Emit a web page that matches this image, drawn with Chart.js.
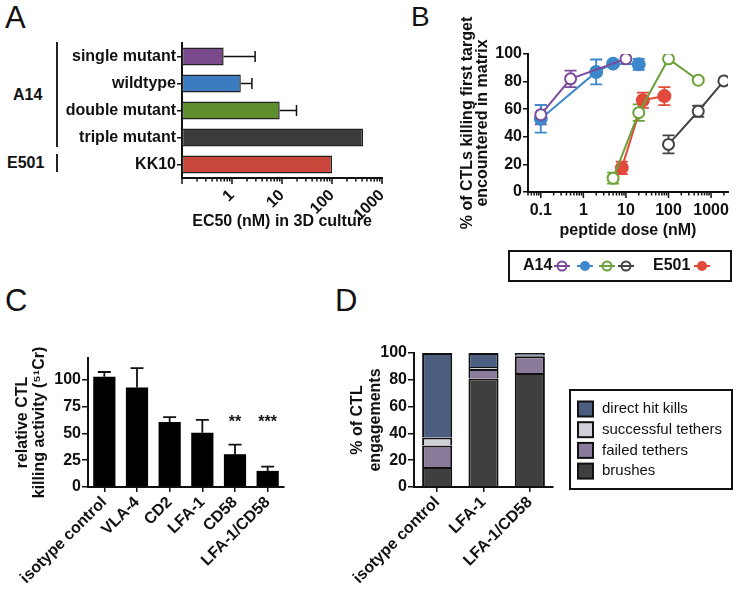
<!DOCTYPE html>
<html>
<head>
<meta charset="utf-8">
<script src="https://cdn.jsdelivr.net/npm/chart.js@4.4.1/dist/chart.umd.min.js"></script>
<style>
  body { margin: 0; background: #fff; width: 737px; height: 596px; position: relative; overflow: hidden;
         font-family: 'Liberation Sans', Arial, Helvetica, sans-serif; color: #111; }
  canvas { position: absolute; }
  .letter { position: absolute; font-size: 31px; line-height: 31px; }
  .group { position: absolute; font-size: 16px; font-weight: bold; line-height: 16px; }
  .vline { position: absolute; width: 2px; background: #222; }
</style>
</head>
<body>
<div class="letter" style="left:5px;top:2px">A</div>
<div class="letter" style="left:411px;top:3px;font-size:28px;line-height:28px">B</div>
<div class="letter" style="left:5px;top:285px">C</div>
<div class="letter" style="left:335px;top:285px">D</div>

<div class="group" style="left:13px;top:87px">A14</div>
<div class="group" style="left:7px;top:155px">E501</div>
<div class="vline" style="left:56px;top:42px;height:105px"></div>
<div class="vline" style="left:56px;top:154px;height:18px"></div>

<canvas id="chartA" width="395" height="235" style="left:0;top:0"></canvas>
<canvas id="chartB" width="357" height="290" style="left:380px;top:0"></canvas>
<canvas id="chartC" width="300" height="296" style="left:0;top:300px"></canvas>
<canvas id="chartD" width="437" height="296" style="left:300px;top:300px"></canvas>

<script>
// ---- panel A: EC50 per peptide
const peptides = ['single mutant', 'wildtype', 'double mutant', 'triple mutant', 'KK10'];
const ec50 = [0.68, 1.5, 9, 420, 100];
const ec50ErrHi = [2.9, 2.5, 19.5, null, null];
const peptideColors = ['#7a4a8c', '#3b7bbf', '#5e8f2c', '#3b3b3b', '#c8473a'];

// ---- panel B: dose response (nM, % killing, +/- error)
const doseSingle = [0.1, 0.5, 10];
const killSingle = [56, 82, 96.5];
const errSingle = [7, 6, 0];
const doseWild = [0.1, 2, 5, 20];
const killWild = [53, 87, 93, 92.5];
const errWild = [10, 9, 1, 4];
const doseDouble = [5, 20, 100, 500];
const killDouble = [10, 57.5, 96.5, 81];
const errDouble = [4, 6, 0, 0];
const doseTriple = [100, 500, 2000];
const killTriple = [34.5, 58.5, 80.5];
const errTriple = [6.5, 4, 0];
const doseKK10 = [8, 25, 80];
const killKK10 = [17.5, 66.5, 69.5];
const errKK10 = [4.5, 5.5, 6.5];

// ---- panel C: blocking antibodies
const antibodies = ['isotype control', 'VLA-4', 'CD2', 'LFA-1', 'CD58', 'LFA-1/CD58'];
const killing = [102.5, 92.5, 60.5, 50.5, 30.5, 15];
const killingErrHi = [107, 110.5, 65, 62.5, 39.5, 19];
const stars = ['', '', '', '', '**', '***'];
const starLevel = 63;

// ---- panel D: engagement outcomes
const treatments = ['isotype control', 'LFA-1', 'LFA-1/CD58'];
const brushes = [15, 81, 85];
const failedTethers = [16, 7, 12.5];
const successfulTethers = [6, 1.5, 0.6];
const directHits = [63, 10.5, 1.9];

const FONT = "'Liberation Sans', Arial, Helvetica, sans-serif";
Chart.defaults.font.family = FONT;
Chart.defaults.font.size = 16;
Chart.defaults.font.weight = 'bold';
Chart.defaults.color = '#111';
Chart.defaults.animation = false;
Chart.defaults.plugins.legend.display = false;
Chart.defaults.plugins.tooltip.enabled = false;

const isPow10 = v => Math.abs(Math.log10(v) - Math.round(Math.log10(v))) < 1e-9;

// force the axis box to a given size so the plot areas line up with the figure
function fixSize(size) {
    return function (scale) {
        if (scale.isHorizontal()) scale.height = size; else scale.width = size;
        scale.paddingLeft = scale.paddingRight = scale.paddingTop = scale.paddingBottom = 0;
    };
}

const axisBorder = {color: '#111', width: 2};

// error bars, read from dataset.errLo / dataset.errHi
function drawErrors(chart) {
    const ctx = chart.ctx;
    const horizontal = chart.options.indexAxis === 'y';
    chart.data.datasets.forEach((ds, di) => {
        if (!ds.errHi) return;
        const meta = chart.getDatasetMeta(di);
        const vs = horizontal ? chart.scales.x : chart.scales.y;
        ctx.save();
        ctx.strokeStyle = ds.errColor || '#111';
        ctx.lineWidth = ds.errWidth || 1.5;
        const cap = ds.capSize || 10;
        meta.data.forEach((el, i) => {
            const hi = ds.errHi[i];
            if (hi == null) return;
            const lo = ds.errLo ? ds.errLo[i] : null;
            const pHi = vs.getPixelForValue(hi);
            const pLo = lo == null ? (horizontal ? el.x : el.y) : vs.getPixelForValue(lo);
            ctx.beginPath();
            if (horizontal) {
                ctx.moveTo(pLo, el.y); ctx.lineTo(pHi, el.y);
                ctx.moveTo(pHi, el.y - cap / 2); ctx.lineTo(pHi, el.y + cap / 2);
            } else {
                ctx.moveTo(el.x, pLo); ctx.lineTo(el.x, pHi);
                ctx.moveTo(el.x - cap / 2, pHi); ctx.lineTo(el.x + cap / 2, pHi);
                if (lo != null) { ctx.moveTo(el.x - cap / 2, pLo); ctx.lineTo(el.x + cap / 2, pLo); }
            }
            ctx.stroke();
        });
        ctx.restore();
    });
}
const errorBars = {
    id: 'errorBars',
    beforeDatasetsDraw(chart, args, opts) { if (opts.behind) drawErrors(chart); },
    afterDatasetsDraw(chart, args, opts) { if (!opts.behind) drawErrors(chart); }
};

// major / minor tick marks for log x axes
const logTicks = {
    id: 'logTicks',
    afterDraw(chart) {
        const s = chart.scales.x, ctx = chart.ctx;
        ctx.save();
        ctx.strokeStyle = '#111';
        ctx.lineWidth = 1.5;
        for (const t of s.ticks) {
            const sig = t.value / Math.pow(10, Math.floor(Math.log10(t.value) + 1e-9));
            if (Math.abs(sig - Math.round(sig)) > 1e-6) continue;
            const px = s.getPixelForValue(t.value);
            const len = isPow10(t.value) ? 6 : 3.5;
            ctx.beginPath(); ctx.moveTo(px, s.top); ctx.lineTo(px, s.top + len); ctx.stroke();
        }
        ctx.restore();
    }
};

const logLabel = v => isPow10(v) ? String(+v.toPrecision(6)) : '';

// ---------------- A
new Chart(document.getElementById('chartA'), {
    type: 'bar',
    data: {
        labels: peptides,
        datasets: [{
            data: ec50,
            backgroundColor: peptideColors,
            borderColor: '#222',
            borderWidth: 1.5,
            borderSkipped: false,
            categoryPercentage: 0.67,
            barPercentage: 1,
            errHi: ec50ErrHi,
            capSize: 11
        }]
    },
    plugins: [errorBars, logTicks],
    options: {
        responsive: false,
        indexAxis: 'y',
        layout: {padding: {left: 0, top: 43, right: 13, bottom: 0}},
        plugins: {errorBars: {behind: false}},
        scales: {
            x: {
                type: 'logarithmic', min: 0.1, max: 1000,
                border: axisBorder,
                grid: {display: false, tickLength: 6},
                ticks: {autoSkip: false, minRotation: 45, maxRotation: 45, padding: 2,
                        callback: v => v >= 1 ? logLabel(v) : ''},
                title: {display: true, text: 'EC50 (nM) in 3D culture', padding: {bottom: 4}},
                afterFit: fixSize(57)
            },
            y: {
                border: axisBorder,
                grid: {drawOnChartArea: false, offset: false, tickLength: 5, color: '#111', lineWidth: 1.5},
                ticks: {padding: 1},
                afterFit: fixSize(182)
            }
        }
    }
});

// ---------------- B
function doseSeries(doses, kills, errs, color, filled) {
    return {
        data: doses.map((d, i) => ({x: d, y: kills[i]})),
        showLine: true,
        borderColor: color,
        borderWidth: 2,
        pointRadius: filled ? 6 : 5.5,
        pointBorderWidth: 2,
        pointBackgroundColor: filled ? color : '#fff',
        pointBorderColor: color,
        errLo: kills.map((k, i) => errs[i] ? k - errs[i] : null),
        errHi: kills.map((k, i) => errs[i] ? k + errs[i] : null),
        errColor: color,
        errWidth: 1.8,
        capSize: 12
    };
}
const colSingle = '#7b4b9b', colWild = '#3d88cc', colDouble = '#6ba33a', colTriple = '#444444', colKK10 = '#e24a3b';

const legendB = {
    id: 'legendB',
    afterDraw(chart) {
        const ctx = chart.ctx;
        ctx.save();
        ctx.lineWidth = 2;
        ctx.strokeStyle = '#111';
        ctx.strokeRect(129, 251, 222, 30);
        ctx.font = 'bold 16px ' + FONT;
        ctx.fillStyle = '#111';
        ctx.textBaseline = 'middle';
        ctx.fillText('A14', 143, 266);
        ctx.fillText('E501', 273, 266);
        const marks = [[182, colSingle, false], [205, colWild, true], [227, colDouble, false],
                       [246, colTriple, false], [322, colKK10, true]];
        for (const [x, c, f] of marks) {
            ctx.strokeStyle = c;
            ctx.fillStyle = f ? c : '#fff';
            ctx.beginPath(); ctx.moveTo(x - 8, 266); ctx.lineTo(x + 8, 266); ctx.stroke();
            ctx.beginPath(); ctx.arc(x, 266, f ? 5 : 4.5, 0, Math.PI * 2);
            ctx.fill();
            if (!f) ctx.stroke();
            if (!f) { ctx.beginPath(); ctx.moveTo(x - 4.5, 266); ctx.lineTo(x + 4.5, 266); ctx.stroke(); }
        }
        ctx.restore();
    }
};

new Chart(document.getElementById('chartB'), {
    type: 'scatter',
    data: {
        datasets: [
            doseSeries(doseSingle, killSingle, errSingle, colSingle, false),
            doseSeries(doseWild, killWild, errWild, colWild, true),
            doseSeries(doseDouble, killDouble, errDouble, colDouble, false),
            doseSeries(doseKK10, killKK10, errKK10, colKK10, true),
            doseSeries(doseTriple, killTriple, errTriple, colTriple, false)
        ]
    },
    plugins: [errorBars, logTicks, legendB],
    options: {
        responsive: false,
        layout: {padding: {left: 0, top: 54, right: 9, bottom: 45}},
        plugins: {errorBars: {behind: true}},
        scales: {
            x: {
                type: 'logarithmic', min: 0.05, max: 2500,
                border: axisBorder,
                grid: {display: false, tickLength: 6},
                ticks: {autoSkip: false, maxRotation: 0, padding: 3, callback: logLabel},
                title: {display: true, text: 'peptide dose (nM)', padding: {bottom: 5}},
                afterFit: fixSize(53)
            },
            y: {
                min: 0, max: 100,
                border: axisBorder,
                grid: {drawOnChartArea: false, tickLength: 5, color: '#111', lineWidth: 1.5},
                ticks: {stepSize: 20, padding: 1},
                title: {display: true, text: ['% of CTLs killing first target', 'encountered in matrix'],
                        font: {size: 16, weight: 'bold', lineHeight: '15px'}, padding: {top: 80}},
                afterFit: fixSize(148)
            }
        }
    }
});

// ---------------- C
const starMarks = {
    id: 'starMarks',
    afterDatasetsDraw(chart) {
        const ctx = chart.ctx, meta = chart.getDatasetMeta(0);
        const y = chart.scales.y.getPixelForValue(starLevel);
        ctx.save();
        ctx.font = 'bold 16px ' + FONT;
        ctx.fillStyle = '#111';
        ctx.textAlign = 'center';
        ctx.textBaseline = 'middle';
        stars.forEach((s, i) => { if (s) ctx.fillText(s, meta.data[i].x, y + 3); });
        ctx.restore();
    }
};

new Chart(document.getElementById('chartC'), {
    type: 'bar',
    data: {
        labels: antibodies,
        datasets: [{
            data: killing,
            backgroundColor: '#000',
            categoryPercentage: 0.68,
            barPercentage: 1,
            errHi: killingErrHi,
            errWidth: 1.8,
            capSize: 13
        }]
    },
    plugins: [errorBars, starMarks],
    options: {
        responsive: false,
        layout: {padding: {left: 0, top: 58, right: 16, bottom: 0}},
        plugins: {errorBars: {behind: true}},
        scales: {
            x: {
                border: axisBorder,
                grid: {drawOnChartArea: false, offset: false, tickLength: 5, color: '#111', lineWidth: 1.5},
                ticks: {minRotation: 45, maxRotation: 45, autoSkip: false, padding: 1},
                afterFit: fixSize(109)
            },
            y: {
                min: 0, max: 120,
                border: axisBorder,
                grid: {drawOnChartArea: false, tickLength: 6, color: '#111', lineWidth: 1.5},
                ticks: {stepSize: 25, padding: 1},
                afterBuildTicks: s => { s.ticks = s.ticks.filter(t => t.value % 25 === 0); },
                title: {display: true, text: ['relative CTL', 'killing activity (\u2075\u00b9Cr)'],
                        font: {size: 16, weight: 'bold', lineHeight: '17px'}, padding: {top: 14}},
                afterFit: fixSize(88)
            }
        }
    }
});

// ---------------- D
const outcomeNames = ['brushes', 'failed tethers', 'successful tethers', 'direct hit kills'];
const outcomeColors = ['#3f3f3f', '#8a7b9b', '#cfcfd7', '#4b5e7f'];

const legendD = {
    id: 'legendD',
    afterDraw(chart) {
        const ctx = chart.ctx;
        ctx.save();
        ctx.lineWidth = 2;
        ctx.strokeStyle = '#111';
        ctx.strokeRect(270, 90, 162, 99);
        ctx.font = 'normal 15px ' + FONT;
        ctx.textBaseline = 'middle';
        chart.data.datasets.slice().reverse().forEach((ds, i) => {
            const y = 109 + i * 20.7;
            ctx.fillStyle = ds.backgroundColor;
            ctx.fillRect(278, y - 7.5, 15, 15);
            ctx.strokeRect(278, y - 7.5, 15, 15);
            ctx.fillStyle = '#111';
            ctx.fillText(ds.label, 302, y);
        });
        ctx.restore();
    }
};

const outcomeData = [brushes, failedTethers, successfulTethers, directHits];
new Chart(document.getElementById('chartD'), {
    type: 'bar',
    data: {
        labels: treatments,
        datasets: outcomeData.map((d, i) => ({
            label: outcomeNames[i],
            data: d,
            backgroundColor: outcomeColors[i],
            borderColor: '#111',
            borderWidth: 2,
            categoryPercentage: 0.65,
            barPercentage: 1
        }))
    },
    plugins: [legendD],
    options: {
        responsive: false,
        layout: {padding: {left: 0, top: 53, right: 184, bottom: 0}},
        scales: {
            x: {
                stacked: true,
                border: axisBorder,
                grid: {drawOnChartArea: false, offset: false, tickLength: 5, color: '#111', lineWidth: 1.5},
                ticks: {minRotation: 45, maxRotation: 45, autoSkip: false, padding: 1},
                afterFit: fixSize(109)
            },
            y: {
                stacked: true, min: 0, max: 100,
                border: axisBorder,
                grid: {drawOnChartArea: false, tickLength: 6, color: '#111', lineWidth: 1.5},
                ticks: {stepSize: 20, padding: 1},
                title: {display: true, text: ['% of CTL', 'engagements'],
                        font: {size: 16, weight: 'bold', lineHeight: '18px'}, padding: {top: 49}},
                afterFit: fixSize(114)
            }
        }
    }
});
</script>
</body>
</html>
